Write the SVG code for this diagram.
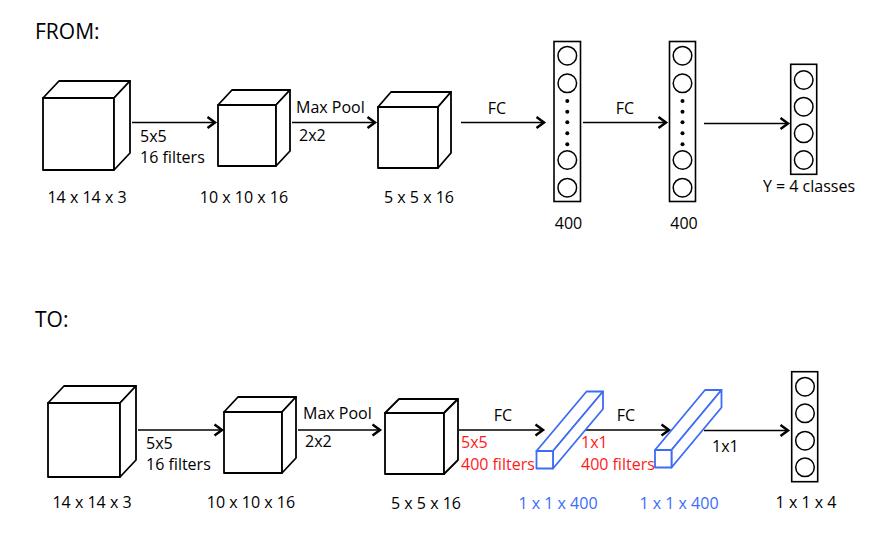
<svg xmlns="http://www.w3.org/2000/svg" width="875" height="535" viewBox="0 0 875 535">
<style>
text{font-family:"Open Sans","Liberation Sans",sans-serif;font-size:16px;fill:#000}
.t{font-size:21px}
.m{text-anchor:middle}
.r{fill:#ff1a1a}
.b{fill:#3d6cf5}
.cube{fill:#fff;stroke:#000;stroke-width:1.8;stroke-linejoin:round}
.bar{fill:#fff;stroke:#3d6cf5;stroke-width:1.8;stroke-linejoin:round}
.col{fill:#fff;stroke:#000;stroke-width:1.6}
.cir{fill:#fff;stroke:#000;stroke-width:1.5}
.dot{fill:#000}
.edge{stroke:#000;stroke-width:1.7;fill:none;marker-end:url(#ah)}
</style>
<defs>
<marker id="ah" markerUnits="userSpaceOnUse" markerWidth="14" markerHeight="14" refX="10" refY="7" orient="auto">
<polyline points="2.5,1.5 10,7 2.5,12.5" fill="none" stroke="#000" stroke-width="2.5" stroke-linejoin="miter"/>
</marker>
</defs>

<text class="t" x="35" y="39">FROM:</text>
<text class="t" x="35" y="327">TO:</text>

<g id="connectors">
<line class="edge" x1="132" y1="122.5" x2="215" y2="122.5"/>
<line class="edge" x1="292" y1="122.5" x2="375" y2="122.5"/>
<line class="edge" x1="461" y1="122.5" x2="544" y2="122.5"/>
<line class="edge" x1="583" y1="122.5" x2="666" y2="122.5"/>
<line class="edge" x1="704" y1="123.5" x2="788" y2="123.5"/>
<line class="edge" x1="138" y1="430" x2="222" y2="430"/>
<line class="edge" x1="298" y1="430" x2="380" y2="430"/>
<line class="edge" x1="459" y1="430" x2="543" y2="430"/>
<line class="edge" x1="585" y1="430" x2="669" y2="430"/>
<line class="edge" x1="704" y1="430.5" x2="788" y2="430.5"/>
<text x="140" y="141.5">5x5</text>
<text x="140" y="163">16 filters</text>
<text x="296" y="113">Max Pool</text>
<text x="299" y="140.5">2x2</text>
<text class="m" x="497" y="114">FC</text>
<text class="m" x="625" y="114">FC</text>
<text x="146" y="449">5x5</text>
<text x="146" y="470">16 filters</text>
<text x="303" y="419">Max Pool</text>
<text x="305" y="447">2x2</text>
<text class="m" x="503" y="420.5">FC</text>
<text class="r" x="461" y="448">5x5</text>
<text class="r" x="461" y="470">400 filters</text>
<text class="m" x="626" y="420.5">FC</text>
<text class="r" x="581" y="448">1x1</text>
<text class="r" x="581" y="470">400 filters</text>
<text x="712" y="451.5">1x1</text>
</g>

<g id="cube1">
<rect class="cube" x="43" y="98" width="71" height="72"/>
<polygon class="cube" points="43,98 59,81 130,81 114,98"/>
<polygon class="cube" points="114,98 130,81 130,153 114,170"/>
<text class="m" x="87" y="203">14 x 14 x 3</text>
</g>
<g id="cube2">
<rect class="cube" x="218" y="105" width="58" height="61"/>
<polygon class="cube" points="218,105 232,90 290,90 276,105"/>
<polygon class="cube" points="276,105 290,90 290,151 276,166"/>
<text class="m" x="244" y="203">10 x 10 x 16</text>
</g>
<g id="cube3">
<rect class="cube" x="378" y="107" width="60" height="61"/>
<polygon class="cube" points="378,107 391,92 451,92 438,107"/>
<polygon class="cube" points="438,107 451,92 451,153 438,168"/>
<text class="m" x="419" y="203">5 x 5 x 16</text>
</g>
<g id="fc1">
<rect class="col" x="554" y="41.5" width="26.5" height="160"/>
<circle class="cir" cx="567.3" cy="55.7" r="9.3"/>
<circle class="cir" cx="567.3" cy="83.3" r="9.3"/>
<circle class="dot" cx="567.3" cy="101" r="2"/>
<circle class="dot" cx="567.3" cy="111.7" r="2"/>
<circle class="dot" cx="567.3" cy="122.3" r="2"/>
<circle class="dot" cx="567.3" cy="133.3" r="2"/>
<circle class="dot" cx="567.3" cy="144.3" r="2"/>
<circle class="cir" cx="567.3" cy="160" r="9.3"/>
<circle class="cir" cx="567.3" cy="187.7" r="9.3"/>
<text class="m" x="568.5" y="229">400</text>
</g>
<g id="fc2">
<rect class="col" x="669.5" y="41.5" width="26" height="160"/>
<circle class="cir" cx="682.5" cy="55.7" r="9.3"/>
<circle class="cir" cx="682.5" cy="83.3" r="9.3"/>
<circle class="dot" cx="682.5" cy="101" r="2"/>
<circle class="dot" cx="682.5" cy="111.7" r="2"/>
<circle class="dot" cx="682.5" cy="122.3" r="2"/>
<circle class="dot" cx="682.5" cy="133.3" r="2"/>
<circle class="dot" cx="682.5" cy="144.3" r="2"/>
<circle class="cir" cx="682.5" cy="160" r="9.3"/>
<circle class="cir" cx="682.5" cy="187.7" r="9.3"/>
<text class="m" x="684" y="229">400</text>
</g>
<g id="out1">
<rect class="col" x="790.7" y="64.3" width="26" height="110"/>
<circle class="cir" cx="803.7" cy="80" r="9.3"/>
<circle class="cir" cx="803.7" cy="106.7" r="9.3"/>
<circle class="cir" cx="803.7" cy="133.3" r="9.3"/>
<circle class="cir" cx="803.7" cy="160" r="9.3"/>
<text class="m" x="809" y="192">Y = 4 classes</text>
</g>

<g id="cube4">
<rect class="cube" x="48" y="403" width="72" height="74"/>
<polygon class="cube" points="48,403 64,386 136,386 120,403"/>
<polygon class="cube" points="120,403 136,386 136,460 120,477"/>
<text class="m" x="92" y="508">14 x 14 x 3</text>
</g>
<g id="cube5">
<rect class="cube" x="224" y="412" width="58" height="61"/>
<polygon class="cube" points="224,412 238,397 296,397 282,412"/>
<polygon class="cube" points="282,412 296,397 296,458 282,473"/>
<text class="m" x="251" y="508">10 x 10 x 16</text>
</g>
<g id="cube6">
<rect class="cube" x="385" y="413" width="59" height="61"/>
<polygon class="cube" points="385,413 399,399 458,399 444,413"/>
<polygon class="cube" points="444,413 458,399 458,460 444,474"/>
<text class="m" x="426" y="509">5 x 5 x 16</text>
</g>
<g id="conv1">
<polygon class="bar" points="536.5,451 553,451 603,391.5 586.5,391.5"/>
<polygon class="bar" points="553,451 603,391.5 603,409 553,468.5"/>
<rect class="bar" x="536.5" y="451" width="16.5" height="17.5"/>
<text class="m b" x="558" y="509">1 x 1 x 400</text>
</g>
<g id="conv2">
<polygon class="bar" points="655,450 671.5,450 721.5,390 705,390"/>
<polygon class="bar" points="671.5,450 721.5,390 721.5,407.5 671.5,467.5"/>
<rect class="bar" x="655" y="450" width="16.5" height="17.5"/>
<text class="m b" x="679" y="509">1 x 1 x 400</text>
</g>
<g id="out2">
<rect class="col" x="791.7" y="371.7" width="26" height="110"/>
<circle class="cir" cx="805" cy="386.7" r="9.3"/>
<circle class="cir" cx="805" cy="413.3" r="9.3"/>
<circle class="cir" cx="805" cy="440.7" r="9.3"/>
<circle class="cir" cx="805" cy="467.3" r="9.3"/>
<text class="m" x="806" y="508">1 x 1 x 4</text>
</g>
</svg>
